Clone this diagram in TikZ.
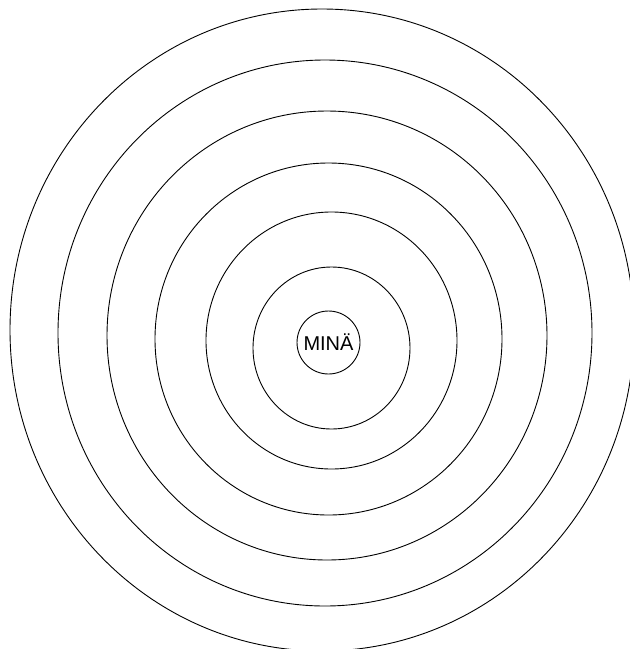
\documentclass[tikz,border=0pt]{standalone}
\usepackage{fontspec}
\setmainfont{Liberation Sans}

\begin{document}
\begin{tikzpicture}[x=1pt, y=-1pt, line width=0.9pt,
    ring/.style={draw, line width=0.9pt},
    every node/.style={font=\fontsize{20}{23}\selectfont}]
        \useasboundingbox (0,0) rectangle (630,649);
        \clip (0,0) rectangle (630,649);
        \node[draw, circle, line width=0.9pt, minimum size=63pt, inner sep=0pt] (mina) at (328.5,342.5) {MINÄ};
        % rings around the centre
        \foreach \cx/\cy/\rx/\ry in {331.5/348/78.5/81, 331.5/340.5/125.5/128.5, 328.5/339/173.5/176,
                327/335.5/220/224.5, 325/333/267/273, 322/330/312/321}
            \draw[ring] (\cx,\cy) ellipse [x radius=\rx, y radius=\ry];
      \end{tikzpicture}
\end{document}
